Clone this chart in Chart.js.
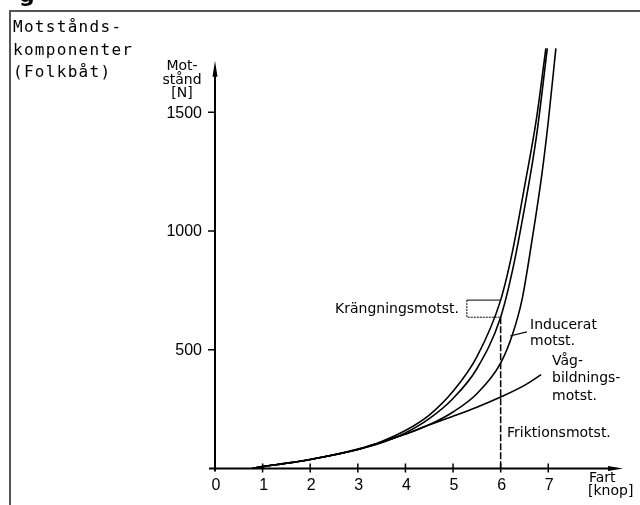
<!DOCTYPE html>
<html><head><meta charset="utf-8">
<script src="https://cdn.jsdelivr.net/npm/chart.js@4/dist/chart.umd.min.js"></script>
<style>html,body{margin:0;padding:0;background:#fff;}#wrap{width:640px;height:505px;position:relative}</style>
</head><body><div id="wrap"><canvas id="c" width="640" height="505"></canvas></div>
<script>
// ---- data (speed in knots, resistance in N) ----
const titleLines = ['Motstånds-', 'komponenter', '(Folkbåt)'];
const yAxisTitle = ['Mot-', 'stånd', '[N]'];
const xAxisTitle = ['Fart', '[knop]'];
const xTicks = [0, 1, 2, 3, 4, 5, 6, 7];
const yTicks = [500, 1000, 1500];

const friktionSpeed = [0.78, 1, 1.5, 2, 3, 4, 4.5, 5, 5.5, 6, 6.5, 6.85];
const friktionN     = [0, 8, 22, 38, 80, 145, 184, 220, 258, 301, 350, 395];

const vagSpeed = [0.78, 1, 1.5, 2, 3, 4, 4.5, 5, 5.5, 6, 6.25, 6.45, 6.65, 6.87, 7.0, 7.16];
const vagN     = [0, 8, 22, 38, 80, 145, 184, 238, 315, 444, 565, 712, 950, 1245, 1460, 1769];

const induceratSpeed = [0.78, 1, 1.5, 2, 3, 3.5, 4, 4.5, 5, 5.5, 6, 6.25, 6.5, 6.75, 6.98];
const induceratN     = [0, 8, 22, 38, 80, 108, 150, 210, 295, 420, 637, 835, 1095, 1395, 1769];

const totalSpeed = [0.78, 1, 1.5, 2, 3, 3.5, 4, 4.5, 5, 5.5, 6, 6.25, 6.5, 6.75, 6.95];
const totalN     = [0, 8, 22, 38, 82, 114, 160, 225, 325, 470, 709, 915, 1185, 1470, 1769];

const markSpeed = 6;          // vertical reference line
const krangLeft = 5.29;       // left edge of the heeling bracket
const xArrowVal = 8.57, yArrowVal = 1717;

const pts = (xs, ys) => xs.map((x, i) => ({x, y: ys[i]}));
const ds = (label, xs, ys) => ({
  label, data: pts(xs, ys), borderColor: '#000', borderWidth: 1.6,
  pointRadius: 0, fill: false, cubicInterpolationMode: 'monotone'
});

const deco = {
  id: 'deco',
  afterDraw(chart) {
    const ctx = chart.ctx, xs = chart.scales.x, ys = chart.scales.y;
    const X = v => xs.getPixelForValue(v), Y = v => ys.getPixelForValue(v);
    const x0 = X(0), y0 = Y(0);
    ctx.save();
    // frame
    ctx.strokeStyle = '#555'; ctx.lineWidth = 2;
    ctx.beginPath(); ctx.moveTo(10, 506); ctx.lineTo(10, 11); ctx.lineTo(641, 11); ctx.stroke();
    // cropped heading glyph
    ctx.fillStyle = '#000';
    ctx.font = 'bold 22px "DejaVu Sans"'; ctx.textAlign = 'left'; ctx.textBaseline = 'alphabetic';
    ctx.fillText('g', 19, 2);
    // title
    ctx.font = '16px "DejaVu Sans Mono"';
    ctx.letterSpacing = '1.3px';
    titleLines.forEach((t, i) => ctx.fillText(t, 13, 32 + i * 22.5));
    ctx.letterSpacing = '0px';
    // axes
    ctx.strokeStyle = '#000'; ctx.lineWidth = 2;
    ctx.beginPath();
    ctx.moveTo(x0 - 6, y0); ctx.lineTo(X(xArrowVal) - 8, y0);
    ctx.moveTo(x0, y0 + 3); ctx.lineTo(x0, Y(yArrowVal) + 8);
    ctx.stroke();
    // arrowheads
    ctx.beginPath();
    const xa = X(xArrowVal);
    ctx.moveTo(xa, y0); ctx.lineTo(xa - 15, y0 - 2.5); ctx.lineTo(xa - 15, y0 + 2.5); ctx.closePath();
    const ya = Y(yArrowVal);
    ctx.moveTo(x0, ya); ctx.lineTo(x0 - 2.5, ya + 16); ctx.lineTo(x0 + 2.5, ya + 16); ctx.closePath();
    ctx.fill();
    // ticks
    ctx.lineWidth = 1.5;
    ctx.beginPath();
    xTicks.forEach(v => { if (v > 0) { ctx.moveTo(X(v), y0 - 5); ctx.lineTo(X(v), y0 + 4); } });
    yTicks.forEach(v => { ctx.moveTo(x0 - 7, Y(v)); ctx.lineTo(x0, Y(v)); });
    ctx.stroke();
    ctx.font = '16px "Liberation Sans"';
    ctx.textAlign = 'center'; ctx.textBaseline = 'alphabetic';
    xTicks.forEach(v => ctx.fillText(String(v), X(v) + 1, y0 + 21.5));
    ctx.textAlign = 'right'; ctx.textBaseline = 'middle';
    yTicks.forEach(v => ctx.fillText(String(v), x0 - 13, Y(v) + 1));
    // axis titles
    ctx.font = '14px "DejaVu Sans"'; ctx.textAlign = 'center'; ctx.textBaseline = 'alphabetic';
    yAxisTitle.forEach((t, i) => ctx.fillText(t, 182, 70 + i * 13.5));
    ctx.font = '14px "DejaVu Sans"'; ctx.textAlign = 'left';
    ctx.fillText(xAxisTitle[0], 589, 482);
    ctx.fillText(xAxisTitle[1], 588, 495);
    // vertical reference at 6 knots
    const iAt6 = induceratN[induceratSpeed.indexOf(markSpeed)];
    const tAt6 = totalN[totalSpeed.indexOf(markSpeed)];
    ctx.lineWidth = 1.5; ctx.setLineDash([7, 2]);
    ctx.beginPath(); ctx.moveTo(X(markSpeed), Y(iAt6)); ctx.lineTo(X(markSpeed), y0); ctx.stroke();
    // heeling bracket
    ctx.lineWidth = 1; ctx.setLineDash([]);
    ctx.beginPath();
    ctx.moveTo(X(markSpeed), Y(tAt6)); ctx.lineTo(X(krangLeft), Y(tAt6));
    ctx.stroke();
    ctx.setLineDash([2, 1]);
    ctx.beginPath();
    ctx.moveTo(X(krangLeft), Y(tAt6)); ctx.lineTo(X(krangLeft), Y(iAt6)); ctx.lineTo(X(markSpeed), Y(iAt6));
    ctx.stroke();
    ctx.setLineDash([]);
    // leader for induced
    ctx.lineWidth = 1.2;
    ctx.beginPath(); ctx.moveTo(X(6.55), Y(575)); ctx.lineTo(X(6.2), Y(558)); ctx.stroke();
    // annotations
    ctx.font = '14px "DejaVu Sans"'; ctx.textAlign = 'left';
    ctx.fillText('Krängningsmotst.', 335, 313);
    ctx.fillText('Inducerat', 530, 329);
    ctx.fillText('motst.', 530, 345);
    ctx.fillText('Våg-', 552, 365);
    ctx.fillText('bildnings-', 552, 382);
    ctx.fillText('motst.', 552, 400);
    ctx.fillText('Friktionsmotst.', 507, 437);
    ctx.restore();
  }
};

new Chart(document.getElementById('c'), {
  type: 'line',
  data: { datasets: [
    ds('Friktionsmotst.', friktionSpeed, friktionN),
    ds('Vågbildningsmotst.', vagSpeed, vagN),
    ds('Inducerat motst.', induceratSpeed, induceratN),
    ds('Krängningsmotst.', totalSpeed, totalN)
  ]},
  options: {
    responsive: false, animation: false,
    layout: { padding: { left: 215, right: 17, top: 41, bottom: 36.5 } },
    plugins: { legend: { display: false }, tooltip: { enabled: false } },
    scales: {
      x: { type: 'linear', min: 0, max: xArrowVal, display: false },
      y: { type: 'linear', min: 0, max: 1800, display: false }
    }
  },
  plugins: [deco]
});
</script></body></html>
